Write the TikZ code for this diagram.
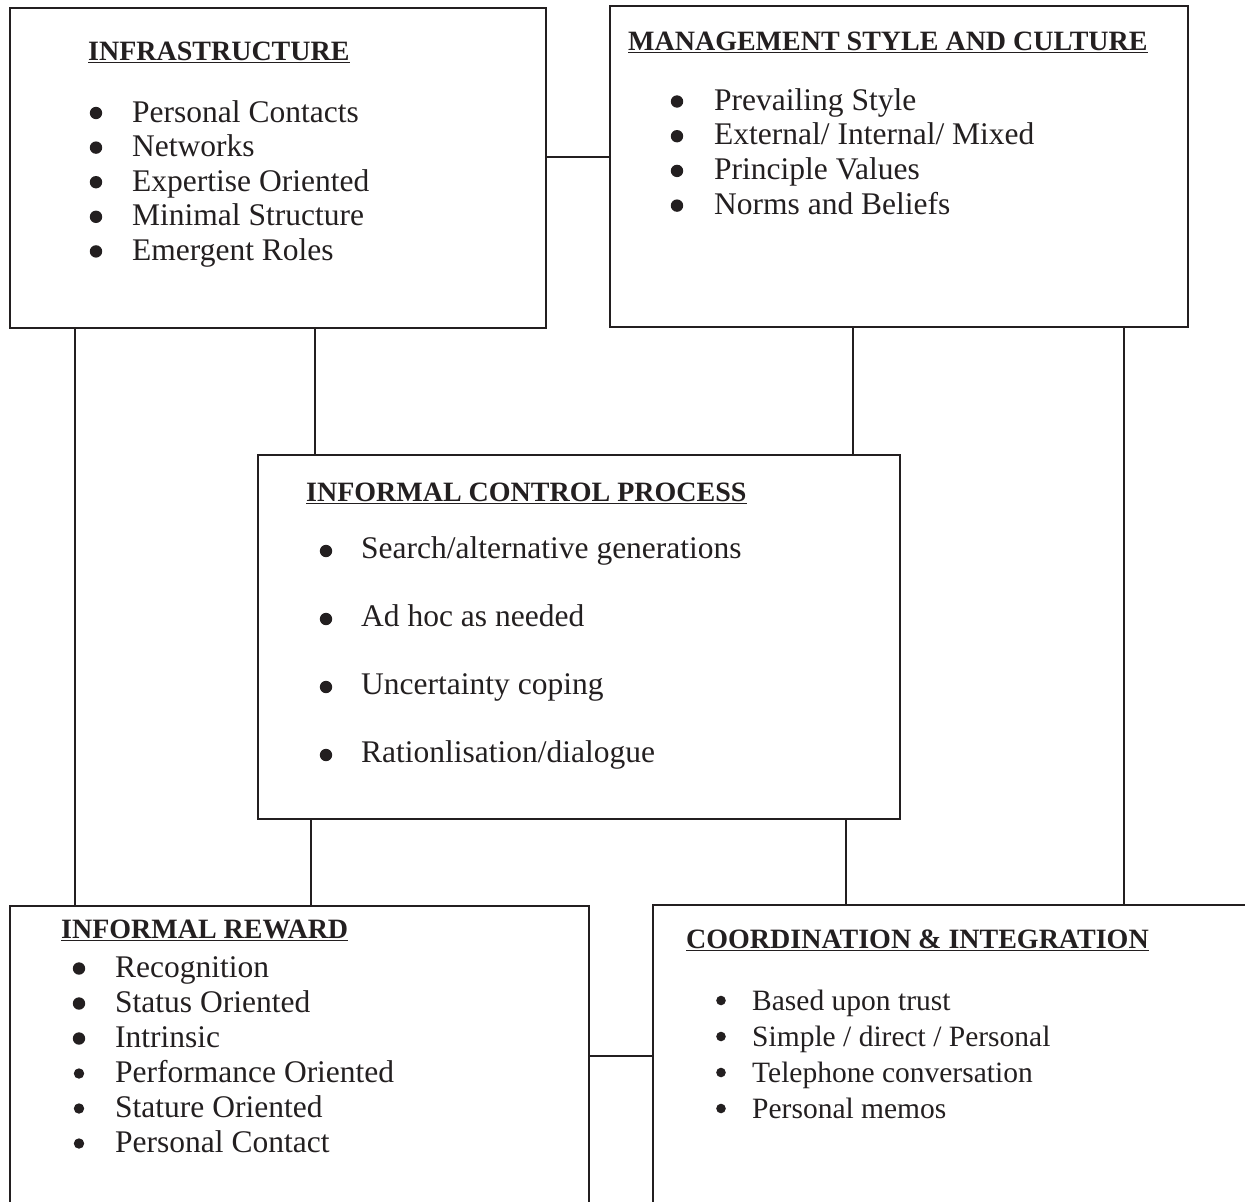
\documentclass[tikz,border=0pt]{standalone}
\usepackage{fontspec}
\setmainfont{Liberation Serif}
\usetikzlibrary{calc}
\definecolor{ink}{HTML}{231F20}
\begin{document}
\begin{tikzpicture}[x=1pt,y=-1pt,
  box/.style={draw=ink, line width=1.8pt, rectangle, inner sep=0pt, outer sep=0pt, anchor=north west},
  link/.style={draw=ink, line width=1.4pt},
  head/.style={anchor=base west, inner sep=0pt, text=ink, font=\fontsize{28}{32}\selectfont\bfseries},
  item/.style={anchor=base west, inner sep=0pt, text=ink, font=\fontsize{31.5}{35}\selectfont},
  smallitem/.style={item, font=\fontsize{29.5}{33}\selectfont},
  uline/.style={draw=ink, line width=1.5pt},
  dot/.style={fill=ink},
]
\useasboundingbox (0,0) rectangle (1245,1202);
\clip (0,0) rectangle (1245,1202);

% boxes
\node[box, minimum width=536pt, minimum height=320pt] (infra)   at (10,8)    {};
\node[box, minimum width=578pt, minimum height=321pt] (mgmt)    at (610,6)   {};
\node[box, minimum width=642pt, minimum height=364pt] (control) at (258,455) {};
\node[box, minimum width=579pt, minimum height=360pt] (reward)  at (10,906)  {};
\node[box, minimum width=700pt, minimum height=360pt] (coord)   at (653,905) {};

% connector guides
\coordinate (hA) at (0,157);
\coordinate (hB) at (0,1056);
\coordinate (vA) at (75,0);
\coordinate (vB) at (315,0);
\coordinate (vC) at (853,0);
\coordinate (vD) at (1124,0);
\coordinate (vE) at (311,0);
\coordinate (vF) at (846,0);

\draw[link] (infra.east |- hA) -- (mgmt.west |- hA);
\draw[link] (reward.east |- hB) -- (coord.west |- hB);
\draw[link] (infra.south -| vA) -- (reward.north -| vA);
\draw[link] (infra.south -| vB) -- (control.north -| vB);
\draw[link] (mgmt.south -| vC) -- (control.north -| vC);
\draw[link] (mgmt.south -| vD) -- (coord.north -| vD);
\draw[link] (control.south -| vE) -- (reward.north -| vE);
\draw[link] (control.south -| vF) -- (coord.north -| vF);

% headings
\node[head] (hinfra)   at (88,60)   {INFRASTRUCTURE};
\node[head] (hmgmt)    at (628,50)  {MANAGEMENT STYLE AND CULTURE};
\node[head] (hcontrol) at (306,501) {INFORMAL CONTROL PROCESS};
\node[head] (hreward)  at (61,938)  {INFORMAL REWARD};
\node[head] (hcoord)   at (686,948) {COORDINATION \& INTEGRATION};
\foreach \h in {hinfra,hmgmt,hcontrol,hreward,hcoord}
  \draw[uline] ($(\h.base west)+(0,2.5)$) -- ($(\h.base east)+(0,2.5)$);

% infrastructure items
\foreach \t [count=\i] in {Personal Contacts, Networks, Expertise Oriented, Minimal Structure, Emergent Roles} {
  \node[item] (infra-\i) at (132,{122+34.6*(\i-1)}) {\t};
  \fill[dot] (96,{113+34.6*(\i-1)}) circle (6.2);
}

% management items
\foreach \t [count=\i] in {Prevailing Style, External/ Internal/ Mixed, Principle Values, Norms and Beliefs} {
  \node[item] (mgmt-\i) at (714,{110+34.7*(\i-1)}) {\t};
  \fill[dot] (677,{101.5+34.7*(\i-1)}) circle (6.2);
}

% control process items
\foreach \t [count=\i] in {Search/alternative generations, Ad hoc as needed, Uncertainty coping, Rationlisation/dialogue} {
  \node[item] (control-\i) at (361,{558+68*(\i-1)}) {\t};
  \fill[dot] (326,{551+68*(\i-1)}) circle (6.2);
}

% reward items
\foreach \t [count=\i] in {Recognition, Status Oriented, Intrinsic} {
  \node[item] (reward-\i) at (115,{977+35*(\i-1)}) {\t};
  \fill[dot] (79,{968.5+35*(\i-1)}) circle (6.2);
}
\foreach \t [count=\i from 4] in {Performance Oriented, Stature Oriented, Personal Contact} {
  \node[item] (reward-\i) at (115,{977+35*(\i-1)}) {\t};
  \fill[dot] (79,{968.5+35*(\i-1)}) circle (5.2);
}

% coordination items
\foreach \t [count=\i] in {Based upon trust, Simple / direct / Personal, Telephone conversation, Personal memos} {
  \node[smallitem] (coord-\i) at (752,{1010+36*(\i-1)}) {\t};
  \fill[dot] (721,{1000.5+36*(\i-1)}) circle (4.8);
}
\end{tikzpicture}
\end{document}
